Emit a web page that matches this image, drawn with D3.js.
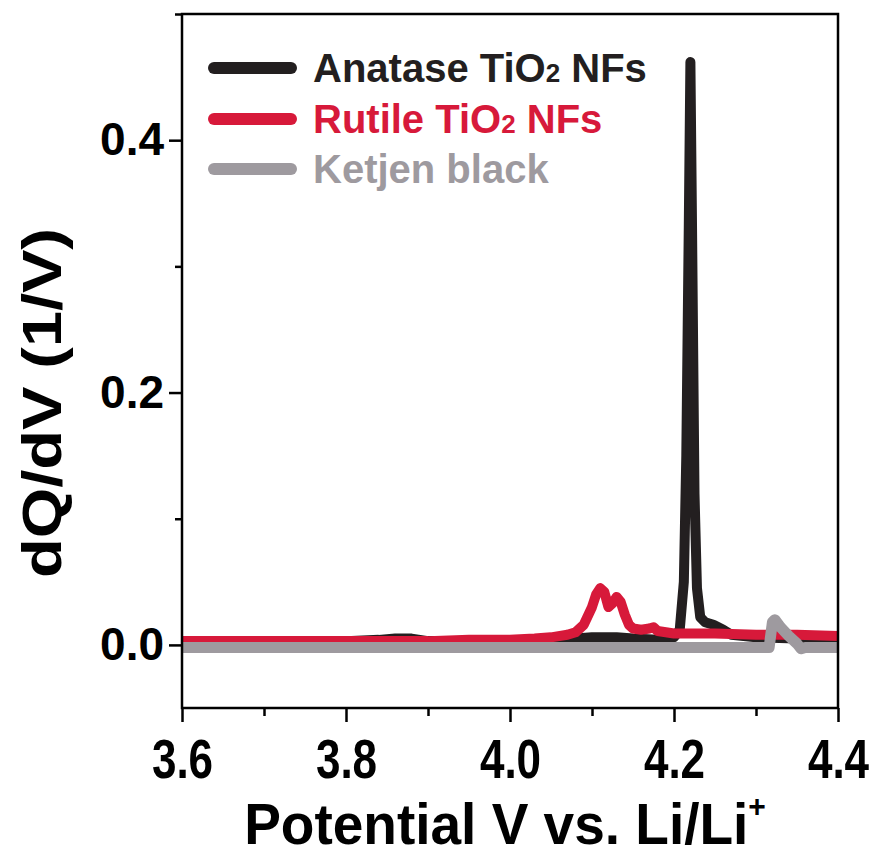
<!DOCTYPE html>
<html>
<head>
<meta charset="utf-8">
<script src="https://cdn.jsdelivr.net/npm/d3@7"></script>
<style>
body{margin:0;background:#fff;}
text{font-family:"Liberation Sans",Arial,sans-serif;font-weight:bold;}
</style>
</head>
<body>
<script>
let xTicks=[3.6,3.8,4.0,4.2,4.4];
let xMinor=[3.7,3.9,4.1,4.3];
let yTicks=[0.0,0.2,0.4];
let yMinor=[0.1,0.3,0.5];

let vAnatase=[3.60,3.70,3.80,3.84,3.86,3.88,3.90,3.95,4.00,4.05,4.08,4.10,4.13,4.15,4.18,4.20,4.207,4.212,4.215,4.218,4.220,4.222,4.225,4.228,4.232,4.238,4.248,4.26,4.27,4.30,4.35,4.40];
let qAnatase=[0.002,0.002,0.003,0.004,0.005,0.005,0.003,0.003,0.003,0.003,0.005,0.006,0.006,0.005,0.004,0.006,0.012,0.05,0.15,0.33,0.462,0.33,0.12,0.045,0.022,0.018,0.016,0.012,0.008,0.006,0.005,0.004];

let vRutile=[3.60,3.70,3.80,3.90,3.95,4.00,4.03,4.05,4.07,4.08,4.09,4.10,4.105,4.11,4.115,4.12,4.125,4.13,4.135,4.14,4.145,4.15,4.16,4.17,4.175,4.18,4.20,4.25,4.30,4.35,4.40];
let qRutile=[0.003,0.003,0.003,0.003,0.004,0.004,0.005,0.006,0.008,0.010,0.016,0.030,0.040,0.045,0.042,0.030,0.033,0.038,0.034,0.024,0.016,0.013,0.012,0.013,0.014,0.011,0.009,0.009,0.008,0.008,0.007];

let vKetjen=[3.60,3.80,4.00,4.20,4.30,4.316,4.320,4.323,4.33,4.34,4.35,4.355,4.36,4.40];
let qKetjen=[-0.002,-0.002,-0.002,-0.002,-0.002,-0.002,0.018,0.020,0.014,0.007,0.001,-0.003,-0.002,-0.002];

let seriesNames=["Anatase TiO","Rutile TiO","Ketjen black"];
let seriesColors=["#231f20","#d7193a","#9e9a9f"];

let w=874,h=856;
let pLeft=182,pRight=838,pTop=14,pBottom=708;

let svg=d3.select("body").append("svg").attr("width",w).attr("height",h);

let xScale=d3.scaleLinear().domain([3.6,4.4]).range([pLeft,pRight]);
let yScale=d3.scaleLinear().domain([-0.05,0.5]).range([pBottom,pTop]);

svg.append("defs").append("clipPath").attr("id","plotclip")
  .append("rect").attr("x",pLeft).attr("y",pTop).attr("width",pRight-pLeft).attr("height",pBottom-pTop);

let line=d3.line().x(d=>xScale(d[0])).y(d=>yScale(d[1]));

let data=[
  d3.zip(vAnatase,qAnatase),
  d3.zip(vRutile,qRutile),
  d3.zip(vKetjen,qKetjen)
];
let g=svg.append("g").attr("clip-path","url(#plotclip)");
data.forEach((d,i)=>{
  g.append("path").datum(d).attr("d",line).attr("fill","none")
    .attr("stroke",seriesColors[i]).attr("stroke-width",i==2?11:10)
    .attr("stroke-linejoin","round").attr("stroke-linecap","round");
});

// frame
svg.append("rect").attr("x",pLeft).attr("y",pTop).attr("width",pRight-pLeft).attr("height",pBottom-pTop)
  .attr("fill","none").attr("stroke","#000").attr("stroke-width",2.5);

let xAxis=d3.axisBottom(xScale).tickValues(xTicks).tickFormat(d3.format(".1f")).tickSize(14);
let xAxisG=svg.append("g").attr("transform","translate(0,"+pBottom+")").call(xAxis);
xAxisG.select(".domain").remove();
xAxisG.selectAll("line").attr("stroke-width",2.5);
xAxisG.selectAll("text").style("font-size","44px").attr("fill","#000")
  .attr("y",0).attr("dy",0).attr("transform","translate(0,70) scale(1,1.25)");

let xMinorG=svg.append("g").attr("transform","translate(0,"+pBottom+")")
  .call(d3.axisBottom(xScale).tickValues(xMinor).tickSize(8).tickFormat(""));
xMinorG.select(".domain").remove();
xMinorG.selectAll("line").attr("stroke-width",2.5);

let yAxis=d3.axisLeft(yScale).tickValues(yTicks).tickFormat(d3.format(".1f")).tickSize(13).tickPadding(5);
let yAxisG=svg.append("g").attr("transform","translate("+pLeft+",0)").call(yAxis);
yAxisG.select(".domain").remove();
yAxisG.selectAll("line").attr("stroke-width",2.5);
yAxisG.selectAll("text").style("font-size","46px").attr("fill","#000");

let yMinorG=svg.append("g").attr("transform","translate("+pLeft+",0)")
  .call(d3.axisLeft(yScale).tickValues(yMinor).tickSize(7).tickFormat(""));
yMinorG.select(".domain").remove();
yMinorG.selectAll("line").attr("stroke-width",2.5);

// axis titles
let xt=svg.append("text").attr("transform","translate(505,844) scale(1,1.05)").attr("text-anchor","middle")
  .style("font-size","55px").attr("fill","#000").text("Potential V vs. Li/Li");
xt.append("tspan").attr("dy",-26).style("font-size","30px").text("+");

svg.append("text").attr("transform","translate(61,403) rotate(-90) scale(1.16,1)").attr("text-anchor","middle")
  .style("font-size","56px").attr("fill","#000").text("dQ/dV (1/V)");

// legend
let legY=[68,119,169];
seriesNames.forEach((nm,i)=>{
  svg.append("line").attr("x1",214).attr("x2",291).attr("y1",legY[i]).attr("y2",legY[i])
    .attr("stroke",seriesColors[i]).attr("stroke-width",12).attr("stroke-linecap","round");
  let t=svg.append("text").attr("x",313).attr("y",legY[i]+14).style("font-size","40px")
    .attr("fill",seriesColors[i]).text(nm);
  if(i<2){
    t.append("tspan").style("font-size","26px").text("2");
    t.append("tspan").text(" NFs");
  }
});
</script>
</body>
</html>
